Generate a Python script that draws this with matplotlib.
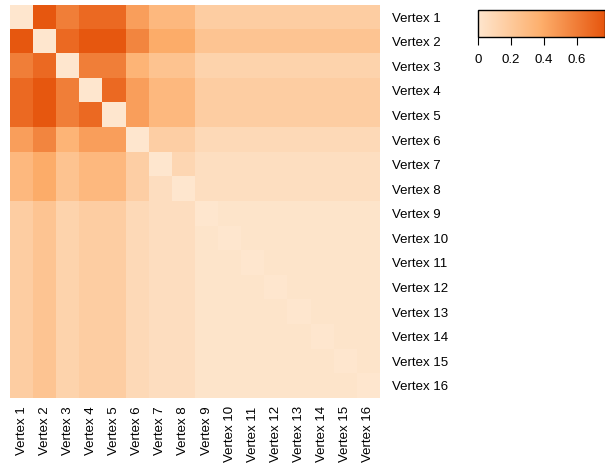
import numpy as np
import matplotlib
matplotlib.use("Agg")
import matplotlib.pyplot as plt
from matplotlib.colors import LinearSegmentedColormap

plt.rcParams["font.family"] = ["Liberation Sans", "DejaVu Sans"]

# vertex labels
labels = ["Vertex %d" % i for i in range(1, 17)]

# distance matrix (row i = Vertex i)
dist = [
    [0.00, 0.76, 0.59, 0.68, 0.68, 0.45, 0.31, 0.31, 0.17, 0.17, 0.17, 0.17, 0.17, 0.17, 0.17, 0.17],
    [0.76, 0.00, 0.68, 0.76, 0.76, 0.56, 0.39, 0.39, 0.23, 0.23, 0.23, 0.23, 0.23, 0.23, 0.23, 0.23],
    [0.59, 0.68, 0.00, 0.59, 0.59, 0.34, 0.24, 0.24, 0.13, 0.13, 0.13, 0.13, 0.13, 0.13, 0.13, 0.13],
    [0.68, 0.76, 0.59, 0.00, 0.68, 0.45, 0.31, 0.31, 0.17, 0.17, 0.17, 0.17, 0.17, 0.17, 0.17, 0.17],
    [0.68, 0.76, 0.59, 0.68, 0.00, 0.45, 0.31, 0.31, 0.17, 0.17, 0.17, 0.17, 0.17, 0.17, 0.17, 0.17],
    [0.45, 0.56, 0.34, 0.45, 0.45, 0.00, 0.16, 0.16, 0.09, 0.09, 0.09, 0.09, 0.09, 0.09, 0.09, 0.09],
    [0.31, 0.39, 0.24, 0.31, 0.31, 0.16, 0.00, 0.11, 0.055, 0.055, 0.055, 0.055, 0.055, 0.055, 0.055, 0.055],
    [0.31, 0.39, 0.24, 0.31, 0.31, 0.16, 0.06, 0.00, 0.055, 0.055, 0.055, 0.055, 0.055, 0.055, 0.055, 0.055],
    [0.17, 0.23, 0.13, 0.17, 0.17, 0.09, 0.06, 0.06, 0.00, 0.015, 0.015, 0.015, 0.015, 0.015, 0.015, 0.015],
    [0.17, 0.23, 0.13, 0.17, 0.17, 0.09, 0.06, 0.06, 0.015, 0.00, 0.015, 0.015, 0.015, 0.015, 0.015, 0.015],
    [0.17, 0.23, 0.13, 0.17, 0.17, 0.09, 0.06, 0.06, 0.015, 0.015, 0.00, 0.015, 0.015, 0.015, 0.015, 0.015],
    [0.17, 0.23, 0.13, 0.17, 0.17, 0.09, 0.06, 0.06, 0.015, 0.015, 0.015, 0.00, 0.015, 0.015, 0.015, 0.015],
    [0.17, 0.23, 0.13, 0.17, 0.17, 0.09, 0.06, 0.06, 0.015, 0.015, 0.015, 0.015, 0.00, 0.015, 0.015, 0.015],
    [0.17, 0.23, 0.13, 0.17, 0.17, 0.09, 0.06, 0.06, 0.015, 0.015, 0.015, 0.015, 0.015, 0.00, 0.015, 0.015],
    [0.17, 0.23, 0.13, 0.17, 0.17, 0.09, 0.06, 0.06, 0.015, 0.015, 0.015, 0.015, 0.015, 0.015, 0.00, 0.015],
    [0.17, 0.23, 0.13, 0.17, 0.17, 0.09, 0.06, 0.06, 0.015, 0.015, 0.015, 0.015, 0.015, 0.015, 0.015, 0.00],
]
cbar_ticks = [0, 0.2, 0.4, 0.6]
vmax = 0.77

cmap = LinearSegmentedColormap.from_list("oranges3", ["#FEE6CE", "#FDAE6B", "#E6550D"])

W, H = 605, 465
fig = plt.figure(figsize=(W / 100, H / 100), dpi=100)

# heatmap
ax = fig.add_axes([10 / W, (H - 398) / H, 370 / W, 393 / H])
m = ax.imshow(np.array(dist), cmap=cmap, vmin=0, vmax=vmax, aspect="auto",
              interpolation="nearest")
ax.set_xticks(range(16))
ax.set_xticklabels(labels, rotation=90, fontsize=9.5)
ax.set_yticks(range(16))
ax.set_yticklabels(labels, fontsize=9.5)
ax.yaxis.tick_right()
ax.tick_params(length=0, pad=9)
ax.tick_params(axis="x", pad=6)
for s in ax.spines.values():
    s.set_visible(False)

# colorbar
cax = fig.add_axes([478 / W, (H - 37) / H, 127 / W, 27 / H])
cb = fig.colorbar(m, cax=cax, orientation="horizontal", ticks=cbar_ticks)
cb.set_ticklabels(["0", "0.2", "0.4", "0.6"])
cb.outline.set_linewidth(1)
cax.tick_params(length=6, width=0.8, labelsize=9.5, pad=6)

fig.savefig("out.png", dpi=100)
